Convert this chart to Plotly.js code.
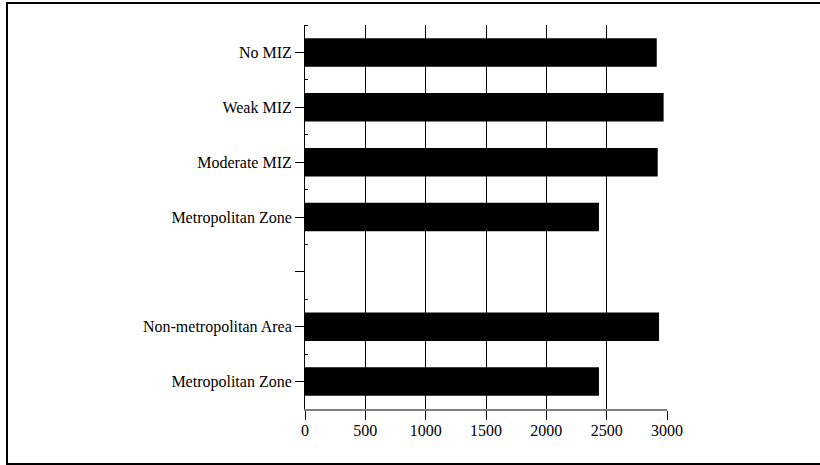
<!DOCTYPE html>
<html>
<head>
<meta charset="utf-8">
<script src="https://cdn.plot.ly/plotly-3.0.1.min.js"></script>
<style>
  html, body { margin: 0; padding: 0; background: #fff; }
  #wrap { position: relative; width: 820px; height: 465px; overflow: hidden; }
  #frame { position: absolute; left: 6px; top: 2px; width: 830px; height: 459px;
           border-left: 2px solid #000; border-top: 2px solid #000; border-bottom: 2px solid #000; box-sizing: content-box; pointer-events: none; }
  #chart { position: absolute; left: 0; top: 0; width: 820px; height: 465px; }
  #chart text { font-family: 'Liberation Serif', 'Times New Roman', serif !important; }
</style>
</head>
<body>
<div id="wrap">
  <div id="chart"></div>
  <div id="frame"></div>
</div>
<script>
// Categories top to bottom ('' is the empty separator row)
const categories = ['No MIZ', 'Weak MIZ', 'Moderate MIZ', 'Metropolitan Zone', '', 'Non-metropolitan Area', 'Metropolitan Zone'];
const values = [2915, 2972, 2923, 2436, null, 2934, 2436];
const xTicks = [0, 500, 1000, 1500, 2000, 2500, 3000];

const rowIndex = categories.map((_, i) => i);

const trace = {
  type: 'bar',
  orientation: 'h',
  x: values,
  y: rowIndex,
  marker: { color: '#000000', line: { width: 0 } },
  hoverinfo: 'skip'
};

const layout = {
  width: 820,
  height: 465,
  margin: { l: 305, r: 153, t: 25, b: 56, pad: 0 },
  paper_bgcolor: '#ffffff',
  plot_bgcolor: '#ffffff',
  font: { family: 'Liberation Serif', size: 16, color: '#000' },
  showlegend: false,
  bargap: 0.48,
  xaxis: {
    range: [0, 3000],
    tickvals: xTicks,
    ticktext: xTicks.map(String),
    ticks: 'outside',
    ticklen: 9,
    tickwidth: 1,
    tickcolor: '#000',
    ticklabelstandoff: -3,
    showgrid: true,
    gridcolor: '#000',
    gridwidth: 1,
    zeroline: false,
    showline: true,
    linecolor: '#808080',
    linewidth: 1.5,
    fixedrange: true
  },
  yaxis: {
    range: [categories.length - 0.5, -0.5],
    tickvals: rowIndex,
    ticktext: categories,
    ticks: 'outside',
    ticklen: 9,
    tickwidth: 1,
    tickcolor: '#000',
    showgrid: false,
    zeroline: false,
    showline: true,
    linecolor: '#000',
    linewidth: 1,
    minor: {
      tickvals: rowIndex.map(i => i - 0.5),
      ticks: 'inside',
      ticklen: 3,
      tickcolor: '#000',
      tickwidth: 1,
      showgrid: false
    },
    fixedrange: true
  }
};

Plotly.newPlot('chart', [trace], layout, { displayModeBar: false, staticPlot: true });
</script>
</body>
</html>
